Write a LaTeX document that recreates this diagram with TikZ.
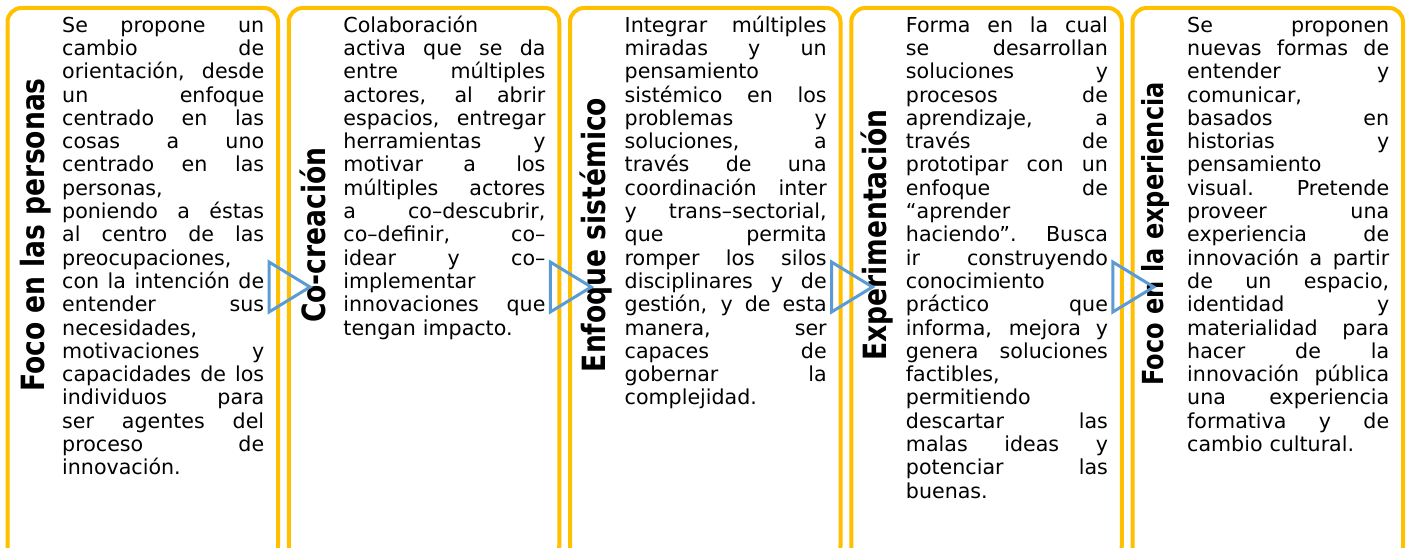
\documentclass[tikz,border=0pt]{standalone}
\usepackage{fontspec}
\usepackage{graphicx}
\setmainfont{DejaVu Sans}
\definecolor{gold}{HTML}{FFC000}
\definecolor{tri}{HTML}{5B9BD5}
\newcommand\J[1]{{\spaceskip=0pt\xspaceskip=0pt\makebox[202pt][s]{#1}}}
\newcommand\ttl[1]{\scalebox{0.83}[1]{#1}}
\tikzset{
  panel/.style={draw=gold, line width=4pt, rounded corners=14pt, minimum width=270.5pt, minimum height=552pt, inner sep=0pt},
  body/.style={anchor=north west, inner sep=0pt, text width=202pt, align=left, font=\fontsize{20.6}{23.3}\selectfont},
  title/.style={rotate=90, anchor=base, inner sep=0pt, font=\fontsize{32}{32}\selectfont\bfseries},
  arrowtri/.style={draw=tri, line width=3pt, line join=miter}
}
\begin{document}
\begin{tikzpicture}[x=1pt,y=-1pt]
\useasboundingbox (0,0) rectangle (1406,548);
\clip (0,0) rectangle (1406,548);
\fill[white] (0,0) rectangle (1406,548);
% panels
\node[panel] (p1) at (142.75,284) {};
\node[panel] (p2) at (424,284) {};
\node[panel] (p3) at (705.25,284) {};
\node[panel] (p4) at (986.5,284) {};
\node[panel] (p5) at (1267.75,284) {};
% titles
\node[title] (t1) at (44.5,235) {\ttl{Foco en las personas}};
\node[title] (t2) at (325.75,235) {\ttl{Co-creación}};
\node[title] (t3) at (605,235) {\ttl{Enfoque sistémico}};
\node[title] (t4) at (886,235) {\ttl{Experimentación}};
\node[title, font=\fontsize{29}{29}\selectfont\bfseries] (t5) at (1163,234) {\ttl{Foco en la experiencia}};
% texts
\node[body] (b1) at (62,14) {\rule{0pt}{18pt}\J{Se propone un}\\
\J{cambio de}\\
\J{orientación, desde}\\
\J{un enfoque}\\
\J{centrado en las}\\
\J{cosas a uno}\\
\J{centrado en las}\\
personas,\\
\J{poniendo a éstas}\\
\J{al centro de las}\\
preocupaciones,\\
\J{con la intención de}\\
\J{entender sus}\\
necesidades,\\
\J{motivaciones y}\\
\J{capacidades de los}\\
\J{individuos para}\\
\J{ser agentes del}\\
\J{proceso de}\\
innovación.};
\node[body] (b2) at (343.25,14) {\rule{0pt}{18pt}Colaboración\\
\J{activa que se da}\\
\J{entre múltiples}\\
\J{actores, al abrir}\\
\J{espacios, entregar}\\
\J{herramientas y}\\
\J{motivar a los}\\
\J{múltiples actores}\\
\J{a co–descubrir,}\\
\J{co–definir, co–}\\
\J{idear y co–}\\
implementar\\
\J{innovaciones que}\\
tengan impacto.};
\node[body] (b3) at (624.5,14) {\rule{0pt}{18pt}\J{Integrar múltiples}\\
\J{miradas y un}\\
pensamiento\\
\J{sistémico en los}\\
\J{problemas y}\\
\J{soluciones, a}\\
\J{través de una}\\
\J{coordinación inter}\\
\J{y trans–sectorial,}\\
\J{que permita}\\
\J{romper los silos}\\
\J{disciplinares y de}\\
\J{gestión, y de esta}\\
\J{manera, ser}\\
\J{capaces de}\\
\J{gobernar la}\\
complejidad.};
\node[body] (b4) at (905.75,14) {\rule{0pt}{18pt}\J{Forma en la cual}\\
\J{se desarrollan}\\
\J{soluciones y}\\
\J{procesos de}\\
\J{aprendizaje, a}\\
\J{través de}\\
\J{prototipar con un}\\
\J{enfoque de}\\
“aprender\\
\J{haciendo”. Busca}\\
\J{ir construyendo}\\
conocimiento\\
\J{práctico que}\\
\J{informa, mejora y}\\
\J{genera soluciones}\\
factibles,\\
permitiendo\\
\J{descartar las}\\
\J{malas ideas y}\\
\J{potenciar las}\\
buenas.};
\node[body] (b5) at (1187,14) {\rule{0pt}{18pt}\J{Se proponen}\\
\J{nuevas formas de}\\
\J{entender y}\\
comunicar,\\
\J{basados en}\\
\J{historias y}\\
pensamiento\\
\J{visual. Pretende}\\
\J{proveer una}\\
\J{experiencia de}\\
\J{innovación a partir}\\
\J{de un espacio,}\\
\J{identidad y}\\
\J{materialidad para}\\
\J{hacer de la}\\
\J{innovación pública}\\
\J{una experiencia}\\
\J{formativa y de}\\
cambio cultural.};
% arrow triangles between panels
\draw[arrowtri] (269,262) -- (310,287) -- (269,312) -- cycle;
\draw[arrowtri] (550.25,262) -- (591.25,287) -- (550.25,312) -- cycle;
\draw[arrowtri] (831.5,262) -- (872.5,287) -- (831.5,312) -- cycle;
\draw[arrowtri] (1112.75,262) -- (1153.75,287) -- (1112.75,312) -- cycle;
\end{tikzpicture}
\end{document}
